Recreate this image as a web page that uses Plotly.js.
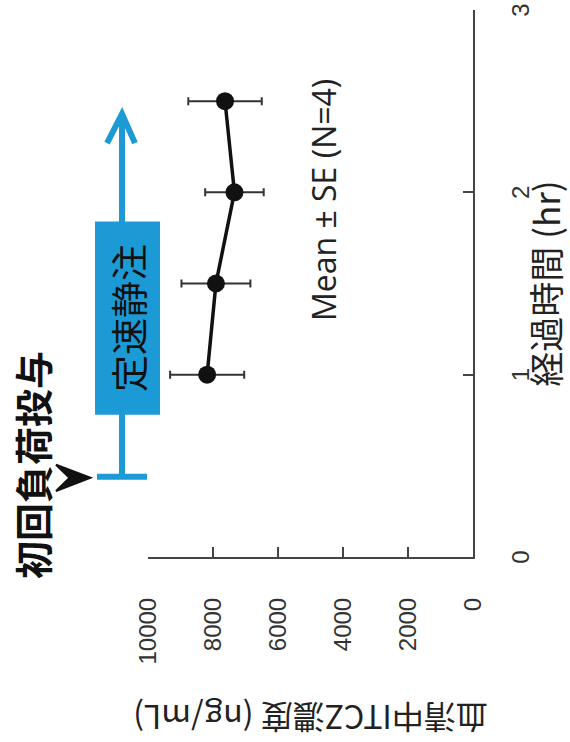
<!DOCTYPE html>
<html>
<head>
<meta charset="utf-8">
<script src="https://cdn.plot.ly/plotly-3.0.1.min.js"></script>
<style>
  html, body { margin: 0; padding: 0; background: #ffffff; overflow: hidden; width: 570px; height: 742px; }
  #chart { position: absolute; left: 0; top: 0; width: 742px; height: 570px;
           transform-origin: 0 0; transform: translate(0px, 742px) rotate(-90deg); }
</style>
</head>
<body>
<div id="chart"></div>
<script>
// ---- data ----
const timeHr = [1, 1.5, 2, 2.5];
const concMean = [8180, 7910, 7340, 7630];
const concSE = [1140, 1060, 900, 1130];
const timeTicks = [0, 1, 2, 3];
const concTicks = [0, 2000, 4000, 6000, 8000, 10000];
const xTitle = '経過時間 (hr)';
const yTitle = '血清中ITCZ濃度 (ng/mL)';
const loadLabel = '初回負荷投与';
const infusionLabel = '定速静注';
const statLabel = 'Mean ± SE (N=4)';

// concentration value -> paper fraction (y axis spans 0..10000 over full domain)
const P = c => c / 10000;
const blue = '#1b9ad6';
const jp = '"Noto Sans CJK JP", sans-serif';
const num = '"Liberation Sans", Arial, sans-serif';

const trace = {
  x: timeHr, y: concMean, type: 'scatter', mode: 'lines+markers',
  line: {color: '#111111', width: 3.5},
  marker: {color: '#111111', size: 18},
  error_y: {type: 'data', array: concSE, visible: true, color: '#333333', thickness: 2, width: 4},
  cliponaxis: false, showlegend: false
};

const layout = {
  width: 742, height: 570,
  margin: {l: 185, r: 10, t: 148, b: 97},
  paper_bgcolor: '#ffffff', plot_bgcolor: '#ffffff',
  showlegend: false,
  xaxis: {
    range: [0, 3], tickvals: timeTicks, ticktext: timeTicks.map(String),
    ticks: 'inside', ticklen: 10, tickwidth: 2, tickcolor: '#444',
    showline: true, linewidth: 2, linecolor: '#444',
    showgrid: false, zeroline: false, automargin: false,
    tickfont: {family: num, size: 24, color: '#333'},
    ticklabelstandoff: 25,
    title: {text: xTitle, font: {family: jp, size: 35, color: '#222'}, standoff: 20}
  },
  yaxis: {
    range: [0, 10000], tickvals: concTicks, ticktext: concTicks.map(String),
    ticks: 'inside', ticklen: 10, tickwidth: 2, tickcolor: '#444',
    showline: true, linewidth: 2, linecolor: '#444',
    showgrid: false, zeroline: false, automargin: false,
    tickfont: {family: num, size: 24, color: '#333'},
    ticklabelstandoff: 34,
    title: {text: yTitle, font: {family: jp, size: 32, color: '#222'}, standoff: 32}
  },
  shapes: [
    // infusion arrow stem
    {type: 'line', xref: 'x', yref: 'paper', x0: 0.44, x1: 2.42, y0: P(10800), y1: P(10800),
     line: {color: blue, width: 6}},
    // start bar
    {type: 'line', xref: 'x', yref: 'paper', x0: 0.44, x1: 0.44, y0: P(10030), y1: P(11570),
     line: {color: blue, width: 6}},
    // arrow head arms
    {type: 'path', xref: 'x', yref: 'paper',
     path: `M 2.27 ${P(11260)} L 2.43 ${P(10800)} L 2.27 ${P(10400)}`,
     line: {color: blue, width: 6}},
    // infusion box
    {type: 'rect', xref: 'x', yref: 'paper', x0: 0.78, x1: 1.84, y0: P(9630), y1: P(11630),
     fillcolor: blue, line: {width: 0}},
    // loading dose chevron
    {type: 'path', xref: 'x', yref: 'paper',
     path: `M 0.362 ${P(12830)} L 0.434 ${P(11770)} L 0.506 ${P(12830)} L 0.434 ${P(12420)} Z`,
     fillcolor: '#111111', line: {color: '#111111', width: 2}}
  ],
  annotations: [
    {text: loadLabel, xref: 'x', yref: 'paper', x: 0.505, y: P(13570), showarrow: false,
     xanchor: 'center', yanchor: 'middle', font: {family: jp, size: 38, color: '#111', weight: 'bold'}},
    {text: infusionLabel, xref: 'x', yref: 'paper', x: 1.31, y: P(10630), showarrow: false,
     xanchor: 'center', yanchor: 'middle', font: {family: jp, size: 37, color: '#111'}},
    {text: statLabel, xref: 'x', yref: 'paper', x: 1.96, y: P(4615), showarrow: false,
     xanchor: 'center', yanchor: 'middle', font: {family: '"Open Sans", sans-serif', size: 32, color: '#222'}}
  ]
};

Plotly.newPlot('chart', [trace], layout, {staticPlot: true, displayModeBar: false});
</script>
</body>
</html>
